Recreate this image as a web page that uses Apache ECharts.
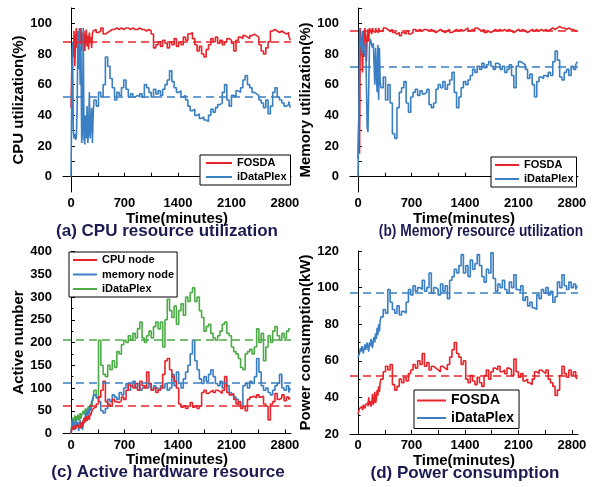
<!DOCTYPE html>
<html><head><meta charset="utf-8">
<script src="https://cdn.jsdelivr.net/npm/echarts@6/dist/echarts.min.js"></script>
<style>html,body{margin:0;padding:0;background:#fff}#c{width:595px;height:487px}</style>
</head><body><div id="c"></div>
<script>
// time (minutes)
const T = [0,10,20,30,40,50,60,70,80,90,100,110,120,130,140,150,160,170,180,190,200,210,220,230,240,250,260,270,280,290,
300,330,360,390,420,450,480,510,540,570,
600,630,660,690,720,750,780,810,840,870,
900,930,960,990,1020,1050,1080,1110,1140,1170,
1200,1230,1260,1290,1320,1350,1380,1410,1440,1470,
1500,1530,1560,1590,1620,1650,1680,1710,1740,1770,
1800,1830,1860,1890,1920,1950,1980,2010,2040,2070,
2100,2130,2160,2190,2220,2250,2280,2310,2340,2370,
2400,2430,2460,2490,2520,2550,2580,2610,2640,2670,
2700,2730,2760,2790,2820,2850,2870];

// (a) CPU utilization (%)
const cpuFOSDA = [45,70,85,78,95,72,90,97,84,93,80,96,86,97,82,94,88,95,82,90,96,85,92,83,94,87,91,84,93,95,
96,94,95,97,93,94,95,96,96,97,
96,97,96,97,97,96,97,96,96,97,
96,96,95,96,95,93,84,86,88,85,
89,87,84,88,86,90,85,88,86,91,
89,93,94,90,86,82,85,80,78,83,
86,90,88,91,87,89,86,88,90,89,
87,82,89,91,90,92,91,90,92,93,
92,91,86,82,80,84,88,95,96,95,
94,95,94,93,94,92,89];
const cpuIDataPlex = [0,55,88,30,25,28,24,26,45,95,70,97,60,85,22,30,97,25,21,40,25,46,22,30,55,25,33,45,22,40,
50,46,55,52,60,78,72,64,58,50,
55,53,58,63,57,52,54,52,53,52,
54,52,60,58,55,52,57,54,56,53,
57,60,63,69,62,58,55,56,52,53,
50,46,43,44,40,41,38,39,37,36,
40,44,42,45,47,48,55,60,50,46,
53,52,56,55,58,63,66,60,58,55,
54,53,50,48,45,50,41,46,55,58,
52,50,48,46,47,49,45];

// (b) Memory utilization (%)
const memFOSDA = [12,37,15,97,90,82,68,95,78,97,88,75,92,96,88,97,94,96,93,97,95,96,94,97,95,96,94,97,95,96,
95,97,96,95,96,94,93,94,92,94,
93,95,93,94,96,95,96,95,96,96,
95,96,95,94,95,96,95,94,95,96,
94,95,96,95,96,95,96,97,95,96,
95,97,96,95,96,94,95,94,95,96,
95,96,95,96,95,96,95,94,95,96,
95,96,95,94,95,96,95,96,95,96,
95,96,95,96,97,96,97,98,97,97,
96,97,96,96,95,95,95];
const memIDataPlex = [0,40,97,85,88,80,95,82,86,78,88,60,32,29,30,85,90,88,87,84,87,86,60,84,85,55,86,50,84,62,
58,65,50,60,48,28,25,45,55,58,
62,48,42,52,55,57,53,56,54,55,
57,47,45,48,57,60,58,62,57,60,
63,68,55,45,52,58,62,60,63,66,
70,68,72,70,74,71,73,75,72,70,
74,73,70,72,68,70,73,66,58,72,
75,74,73,70,64,67,60,52,62,65,
64,66,65,68,66,75,82,76,65,63,
68,70,66,72,70,73,75];

// (c) Active hardware resource (number)
const actCPU = [0,10,15,8,12,18,10,15,12,20,14,18,12,25,20,15,30,22,35,25,38,28,35,40,30,45,40,48,50,55,
58,65,80,95,115,70,65,60,75,70,
68,72,80,75,95,110,105,100,110,95,
115,105,100,135,110,95,100,90,95,100,
130,160,165,140,125,115,100,65,58,62,
55,60,68,58,62,55,60,90,95,88,
92,95,90,95,92,88,95,125,90,85,
88,75,65,70,55,60,50,75,80,82,
78,85,80,82,65,60,30,65,70,88,
75,78,85,72,80,75,78];
const actMem = [0,15,30,10,25,8,20,30,15,25,5,20,30,12,25,8,20,35,25,45,30,50,40,55,45,60,50,70,75,80,
85,78,70,50,45,55,75,70,85,80,
75,90,85,100,110,95,105,115,100,110,
95,100,105,100,110,95,105,100,95,105,
100,110,95,100,130,105,135,110,100,120,
135,150,175,205,160,140,120,110,125,115,
130,140,125,110,105,115,100,110,105,90,
85,80,75,65,60,105,110,100,115,110,
125,165,135,105,95,100,90,85,95,105,
110,130,100,95,105,90,100];
const actIDataPlex = [0,20,35,22,30,40,25,38,30,42,28,35,45,32,40,36,50,42,38,55,45,52,48,60,55,50,65,58,70,75,
95,80,205,150,130,125,150,140,160,145,
180,175,195,205,200,215,205,220,210,230,
245,210,200,215,225,210,235,245,230,245,
190,250,295,270,255,280,240,270,285,260,
300,290,310,320,290,300,270,255,225,235,
240,220,210,205,215,225,240,245,220,215,
190,180,175,165,145,140,175,180,185,175,
190,230,200,220,160,190,215,200,225,235,
215,205,220,210,225,230,230];

// (d) Power consumption (kW)
const powFOSDA = [31,32,34,33,35,34,33,36,35,34,36,35,37,35,40,36,38,35,37,42,36,38,43,37,39,44,41,46,43,48,
50,54,57,55,58,47,44,46,50,48,
51,49,53,55,58,56,60,58,64,57,
59,55,57,56,55,54,57,56,55,58,
62,66,70,64,62,58,60,50,48,52,
49,47,51,48,46,52,55,50,54,56,
55,57,54,55,53,56,55,52,61,54,
51,53,49,50,48,47,50,54,53,55,
54,53,55,50,48,46,41,44,52,57,
53,51,55,52,54,51,50];
const powIDataPlex = [62,61,64,67,65,68,66,64,67,69,66,68,70,67,65,70,68,72,69,67,71,73,70,75,72,78,74,80,76,82,
84,88,86,99,92,88,86,90,85,87,
86,92,99,96,101,98,100,99,104,98,
100,108,97,100,99,96,102,98,101,94,
104,106,110,108,112,118,108,112,106,115,
110,113,118,112,106,103,110,108,119,105,
98,102,100,104,99,97,103,100,107,99,
98,101,93,95,90,92,89,88,96,94,
99,97,100,96,98,92,95,103,100,107,
101,99,103,100,102,99,101];

// dashed average lines
const meanA = [88, 52];
const meanB = [95, 72];
const meanC = [62, 112, 207];
const meanD = [52, 97];

const xLabels = [0, 700, 1400, 2100, 2800];
const xTicks = [0, 350, 700, 1050, 1400, 1750, 2100, 2450, 2800];
const yLabelsAB = [0, 20, 40, 60, 80, 100];
const yTicksAB = [0, 10, 20, 30, 40, 50, 60, 70, 80, 90, 100, 110];

const RED = '#e8242b', BLUE = '#3a7fc2', GREEN = '#4cab47';
const FONT = '"Liberation Sans", Arial, sans-serif';

const pts = arr => T.map((t, i) => [t, arr[i]]);

function mk(name, data, color, gi, mean) {
  return {
    type: 'line', name, xAxisIndex: gi, yAxisIndex: gi,
    data: pts(data), symbol: 'none', step: 'end',
    lineStyle: { color, width: 1.6 }, itemStyle: { color },
    z: 3,
    markLine: {
      silent: true, symbol: 'none', label: { show: false },
      lineStyle: { color, type: [8, 5], width: 1.6 },
      data: [{ yAxis: mean }], animation: false
    }
  };
}

function xAx(gi) {
  return {
    type: 'value', gridIndex: gi, min: -105, max: 2880,
    name: 'Time(minutes)', nameLocation: 'middle', nameGap: 17,
    nameTextStyle: { fontFamily: FONT, fontWeight: 'bold', fontSize: 15, color: '#000' },
    axisLine: { show: true, lineStyle: { color: '#000', width: 1 } },
    axisTick: { show: true, inside: true, length: 4, customValues: xTicks, lineStyle: { color: '#000' } },
    axisLabel: { customValues: xLabels, formatter: v => String(v), margin: 5,
      fontFamily: FONT, fontWeight: 'bold', fontSize: 13, color: '#000' },
    splitLine: { show: false }
  };
}
function yAx(gi, name, opts) {
  return Object.assign({
    type: 'value', gridIndex: gi,
    name, nameLocation: 'middle', nameGap: 37,
    nameTextStyle: { fontFamily: FONT, fontWeight: 'bold', fontSize: 15, color: '#000' },
    axisLine: { show: true, lineStyle: { color: '#000', width: 1 } },
    splitLine: { show: false }
  }, opts);
}
const yLab = { margin: 11, formatter: v => String(v), fontFamily: FONT, fontWeight: 'bold', fontSize: 13, color: '#000' };

function legend(left, top, data, fs, lh, iw, gap, pad) {
  return {
    left, top, orient: 'vertical', data, icon: 'rect',
    itemWidth: iw, itemHeight: 2, itemGap: gap, padding: pad,
    borderColor: '#000', borderWidth: 1, backgroundColor: '#fff', borderRadius: 0,
    textStyle: { fontFamily: FONT, fontWeight: 'bold', fontSize: fs, lineHeight: lh, color: '#000' },
    selectedMode: false, z: 10
  };
}

function ttl(text, x, y, sx) {
  return {
    type: 'text', x, y, scaleX: sx, z: 20,
    style: { text, fill: '#1b1b52', fontFamily: FONT, fontWeight: 'bold', fontSize: 17,
      textAlign: 'center', textVerticalAlign: 'middle' }
  };
}

const chart = echarts.init(document.getElementById('c'), null, { renderer: 'canvas' });
chart.setOption({
  animation: false,
  backgroundColor: '#fff',
  graphic: [
    ttl('(a) CPU resource utilization', 167, 231, 1),
    ttl('(b) Memory resource utilization', 481, 231, 0.81),
    ttl('(c) Active hardware resource', 168, 472, 1),
    ttl('(d) Power consumption', 465, 473, 1)
  ],
  grid: [
    { left: 63, top: 8, width: 228, height: 184 },
    { left: 350, top: 8, width: 228, height: 184 },
    { left: 63, top: 251.5, width: 228, height: 182 },
    { left: 350, top: 251, width: 228, height: 183 }
  ],
  xAxis: [xAx(0), xAx(1), xAx(2), xAx(3)],
  yAxis: [
    yAx(0, 'CPU utilization(%)', { min: -10, max: 110,
      axisTick: { show: true, inside: true, length: 4, customValues: yTicksAB, lineStyle: { color: '#000' } },
      axisLabel: Object.assign({ customValues: yLabelsAB }, yLab) }),
    yAx(1, 'Memory utilization(%)', { min: -10, max: 110,
      axisTick: { show: true, inside: true, length: 4, customValues: yTicksAB, lineStyle: { color: '#000' } },
      axisLabel: Object.assign({ customValues: yLabelsAB }, yLab) }),
    yAx(2, 'Active number', { min: 0, max: 400, interval: 50,
      axisTick: { show: true, inside: true, length: 4, lineStyle: { color: '#000' } },
      minorTick: { show: true, splitNumber: 2, length: 2.5, lineStyle: { color: '#000' } },
      axisLabel: yLab }),
    yAx(3, 'Power consumption(kW)', { min: 20, max: 120, interval: 20,
      axisTick: { show: true, inside: true, length: 4, lineStyle: { color: '#000' } },
      minorTick: { show: true, splitNumber: 2, length: 2.5, lineStyle: { color: '#000' } },
      axisLabel: yLab })
  ],
  legend: [
    legend(200, 155, ['FOSDA', 'iDataPlex'], 11, 12, 26, 2, [2, 4, 2, 6]),
    legend(491, 157, ['FOSDA', 'iDataPlex'], 11, 12, 24, 2, [2, 3, 2, 4]),
    legend(69, 252, ['CPU node', 'memory node', 'iDataPlex '], 11, 12, 24, 2.5, [2, 3, 2, 4]),
    legend(414, 390, ['FOSDA', 'iDataPlex'], 14, 15, 29, 2.5, [3, 5, 3, 3])
  ],
  series: [
    mk('FOSDA', cpuFOSDA, RED, 0, meanA[0]),
    mk('iDataPlex', cpuIDataPlex, BLUE, 0, meanA[1]),
    mk('FOSDA', memFOSDA, RED, 1, meanB[0]),
    mk('iDataPlex', memIDataPlex, BLUE, 1, meanB[1]),
    mk('iDataPlex ', actIDataPlex, GREEN, 2, meanC[2]),
    mk('memory node', actMem, BLUE, 2, meanC[1]),
    mk('CPU node', actCPU, RED, 2, meanC[0]),
    mk('FOSDA', powFOSDA, RED, 3, meanD[0]),
    mk('iDataPlex', powIDataPlex, BLUE, 3, meanD[1])
  ]
});
</script></body></html>
